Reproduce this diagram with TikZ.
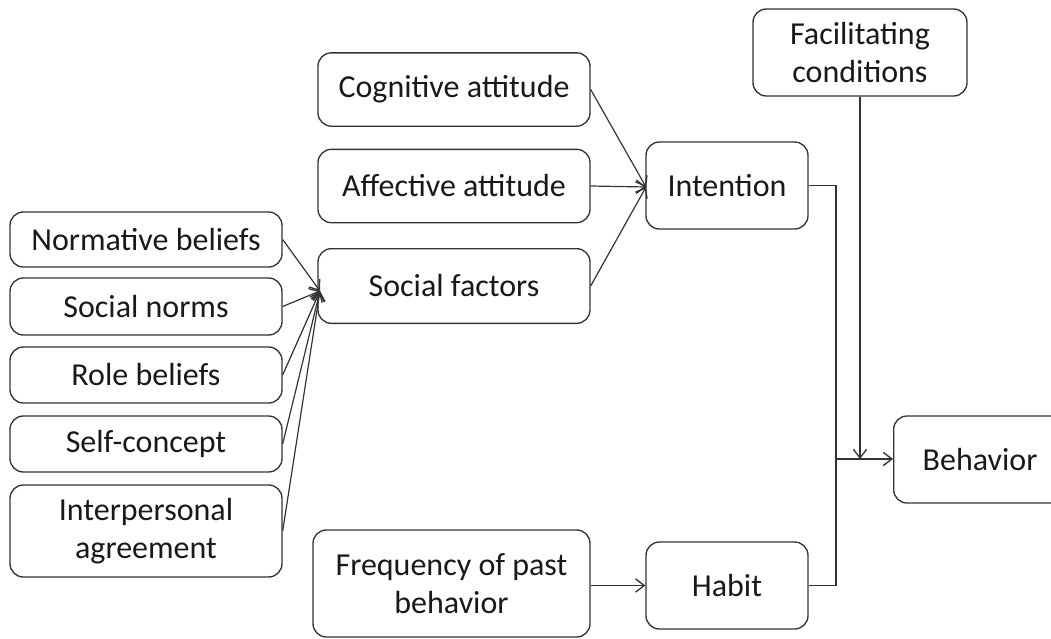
\documentclass[tikz,border=0pt]{standalone}
\usepackage{fontspec}
\setmainfont{Carlito}
\usetikzlibrary{arrows.meta}
\begin{document}
\begin{tikzpicture}[x=0.75pt,y=-0.75pt,
  box/.style={draw=black!80, line width=1pt, rounded corners=10pt, inner sep=0pt,
    align=center, text=black!90, font=\fontsize{24}{28}\selectfont},
  conn/.style={draw=black!80, line width=0.9pt},
  arr/.style={conn, -{Straight Barb[length=6.5pt,width=10pt,line width=1pt]}}]
\useasboundingbox (0,0) rectangle (1051,639);
% boxes
\node[box, minimum width=160.5pt, minimum height=65.25pt] (fac) at (860,52.5) {Facilitating\\conditions};
\node[box, minimum width=204pt, minimum height=55pt] (cog) at (454,89.5) {Cognitive attitude};
\node[box, minimum width=204pt, minimum height=55pt] (aff) at (454,186) {Affective attitude};
\node[box, minimum width=204pt, minimum height=56pt] (soc) at (454,286) {Social factors};
\node[box, minimum width=121.5pt, minimum height=65.25pt] (int) at (727,185.5) {Intention};
\node[box, minimum width=204pt, minimum height=41.25pt] (nb) at (146,239.5) {Normative beliefs};
\node[box, minimum width=204pt, minimum height=42.75pt] (sn) at (146,306.5) {Social norms};
\node[box, minimum width=204pt, minimum height=42pt] (rb) at (146,375) {Role beliefs};
\node[box, minimum width=204pt, minimum height=42pt] (sc) at (146,444) {Self-concept};
\node[box, minimum width=204pt, minimum height=69pt] (ia) at (146,531) {Interpersonal\\agreement};
\node[box, minimum width=207.75pt, minimum height=80.25pt] (freq) at (451.5,583.5) {Frequency of past\\behavior};
\node[box, minimum width=121.5pt, minimum height=65.25pt] (hab) at (727,585.5) {Habit};
\node[box, minimum height=65.25pt, inner xsep=21.75pt, text width=100pt, align=left, anchor=west] (beh) at (893,459.5) {Behavior};
% junction points
\coordinate (sfin) at (320,291);
\coordinate (intin) at (646,187);
\coordinate (jn) at (836,459);
\coordinate (jbot) at (836,585.5);
% connectors
\foreach \s in {nb,sn,rb,sc,ia} \draw[arr] (\s.east) -- (sfin);
\foreach \s in {cog,aff,soc} \draw[arr] (\s.east) -- (intin);
\draw[arr] (freq.east |- hab.west) -- (hab.west);
\draw[conn] (int.east) -| (jbot) -- (hab.east);
\draw[arr] (jn) -- (jn -| beh.west);
\draw[arr] (fac.south) -- (fac.south |- jn);
\end{tikzpicture}
\end{document}
